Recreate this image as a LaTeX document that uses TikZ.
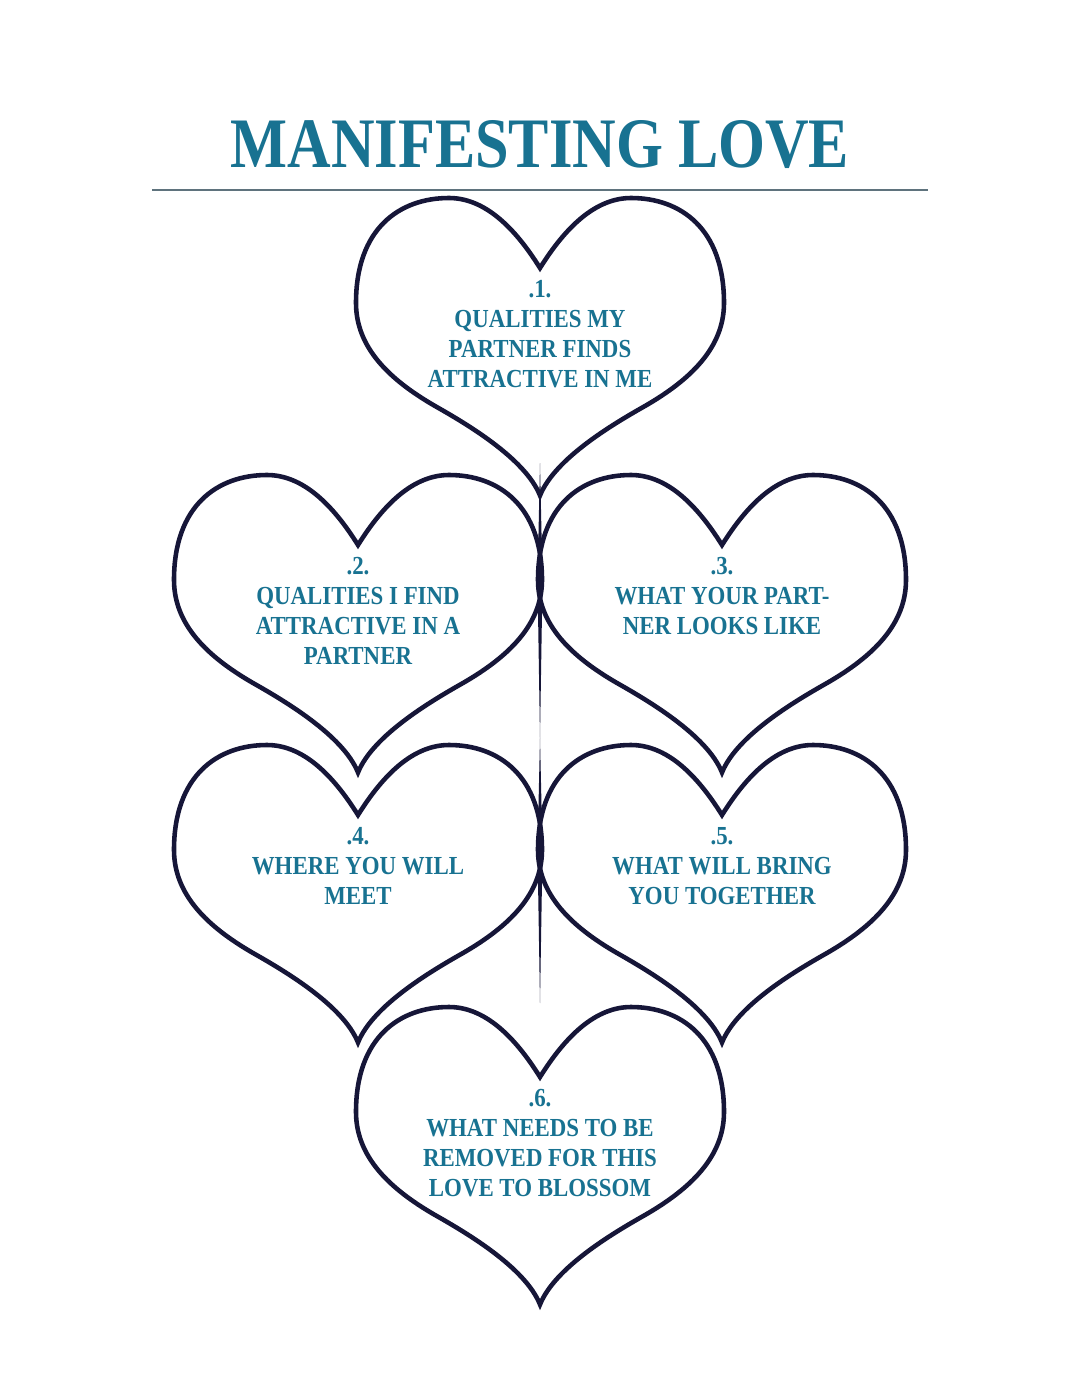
\documentclass[tikz,border=0pt]{standalone}
\usepackage{fontspec}
\usepackage{tikz}
\usetikzlibrary{calc}
\newfontfamily\lovefont[FakeStretch=0.88]{Liberation Serif}
\newfontfamily\lovetitlefont[FakeStretch=0.85]{Liberation Serif}
\definecolor{loveteal}{RGB}{24,114,145}
\definecolor{loveink}{RGB}{22,22,56}
\definecolor{loverule}{RGB}{95,115,125}

\begin{document}
\begin{tikzpicture}[%
          heart/.style={anchor=north,
              inner xsep=0pt,
              inner ysep=0.24cm,
              align=center,
              text=loveteal,
              font=\lovefont\bfseries\fontsize{14.8}{17.1}\selectfont,
              append after command={%
                  \pgfextra
                  \draw[line width=2.6pt, draw=loveink, shift={(\tikzlastnode.north)}]
                  (0,0) .. controls (-0.5,0.8) and (-1.1,1.4) .. (-1.82,1.4)
                  .. controls (-2.8,1.4) and (-3.68,0.8) .. (-3.68,-0.7)
                  .. controls (-3.68,-1.6) and (-3.0,-2.24) .. (-2.1,-2.76)
                  .. controls (-1.5,-3.1) and (-0.3,-3.8) .. (0,-4.55)
                  .. controls (0.3,-3.8) and (1.5,-3.1) .. (2.1,-2.76)
                  .. controls (3.0,-2.24) and (3.68,-1.6) .. (3.68,-0.7)
                  .. controls (3.68,0.8) and (2.8,1.4) .. (1.82,1.4)
                  .. controls (1.1,1.4) and (0.5,0.8) .. (0,0) -- cycle;
                  \endpgfextra}},
          spike/.style={fill=loveink, draw=none},
        ]
        \useasboundingbox (0,0) rectangle (21.6,-27.94);

        \node[anchor=base, text=loveteal,
              font=\lovetitlefont\bfseries\fontsize{40.4}{44}\selectfont] (title) at (10.8,-3.34) {MANIFESTING LOVE};
        \coordinate (ruleL) at (3.04,-3.8);
        \coordinate (ruleR) at (18.56,-3.8);
        \draw[loverule, line width=1.1pt] (ruleL) -- (ruleR);

        \coordinate (sp1a) at (10.8,-9.26);
        \coordinate (sp1m) at (10.8,-11.6);
        \coordinate (sp1b) at (10.8,-14.76);
        \coordinate (sp2m) at (10.8,-17.0);
        \coordinate (sp2b) at (10.8,-20.06);
        \fill[spike] (sp1a) -- ($(sp1m)+(0.05,0)$) -- (sp1b) -- ($(sp1m)+(-0.05,0)$) -- cycle;
        \fill[spike] (sp1b) -- ($(sp2m)+(0.05,0)$) -- (sp2b) -- ($(sp2m)+(-0.05,0)$) -- cycle;

        \node[heart] (q1) at (10.8,-5.36) {.1.\\QUALITIES MY\\PARTNER FINDS\\ATTRACTIVE IN ME};
        \node[heart] (q2) at (7.16,-10.9) {.2.\\QUALITIES I FIND\\ATTRACTIVE IN A\\PARTNER};
        \node[heart] (q3) at (14.44,-10.9) {.3.\\WHAT YOUR PART-\\NER LOOKS LIKE};
        \node[heart] (q4) at (7.16,-16.3) {.4.\\WHERE YOU WILL\\MEET};
        \node[heart] (q5) at (14.44,-16.3) {.5.\\WHAT WILL BRING\\YOU TOGETHER};
        \node[heart] (q6) at (10.8,-21.54) {.6.\\WHAT NEEDS TO BE\\REMOVED FOR THIS\\LOVE TO BLOSSOM};
      \end{tikzpicture}
\end{document}
